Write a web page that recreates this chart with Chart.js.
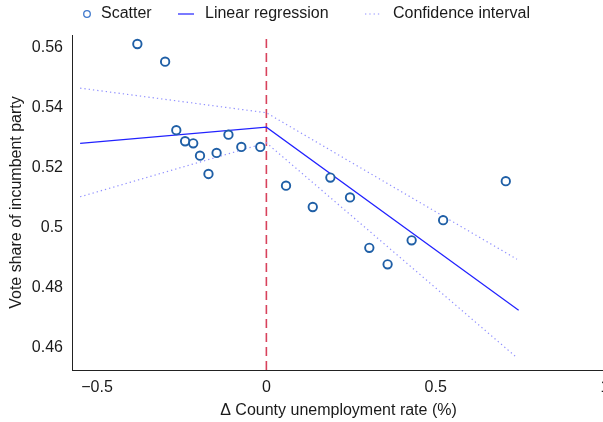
<!DOCTYPE html>
<html>
<head>
<meta charset="utf-8">
<script src="https://cdn.jsdelivr.net/npm/chart.js@4/dist/chart.umd.min.js"></script>
<style>
  html, body { margin: 0; padding: 0; background: #fff; overflow: hidden; }
  #wrap { position: relative; width: 620px; height: 422px; }
</style>
</head>
<body>
<div id="wrap"><canvas id="rdChart"></canvas></div>
<script>
// county-level scatter around the cutoff
const scatterX = [-0.381, -0.299, -0.266, -0.240, -0.216, -0.196, -0.171, -0.147, -0.112, -0.074,
  -0.018, 0.058, 0.137, 0.189, 0.247, 0.304, 0.358, 0.429, 0.522, 0.707]
const scatterY = [0.5613, 0.5554, 0.5326, 0.5289, 0.5282, 0.5241, 0.5180, 0.5250, 0.5311, 0.5270,
  0.5270, 0.5141, 0.5070, 0.5168, 0.5102, 0.4934, 0.4879, 0.4959, 0.5026, 0.5156]

// piecewise fit and its band
const fitX = [-0.55, 0, 0.745]
const fitY = [0.5282, 0.5336, 0.4726]
const ciX = [-0.55, 0, 0.74]
const ciUpperY = [0.5466, 0.5384, 0.4896]
const ciLowerY = [0.5104, 0.5284, 0.4568]

const cutoffX = [0, 0]

const xMin = -0.574, xMax = 1.0
const yMin = 0.4527, yMax = 0.5643
const xTicks = [-0.5, 0, 0.5, 1]
const yTicks = [0.46, 0.48, 0.5, 0.52, 0.54, 0.56]

const FONT = "'Liberation Sans', Arial, Helvetica, sans-serif"
const TXT = "#1a1a1a"

const pts = (xs, ys) => xs.map((x, i) => ({ x: x, y: ys[i] }))

// legend drawn by hand so the spacing can follow the original figure
const legendPlugin = {
	id: "handLegend",
	afterDraw(chart) {
		const ctx = chart.ctx
		const y = 14
		const items = [
			{ kind: "circle", ds: chart.data.datasets[0], icon: 87, text: 101 },
			{ kind: "line", ds: chart.data.datasets[1], icon: [178, 194], text: 205 },
			{ kind: "line", ds: chart.data.datasets[2], icon: [365, 381], text: 393 },
		]
		ctx.save()
		ctx.font = "16px " + FONT
		ctx.textBaseline = "middle"
		ctx.fillStyle = TXT
		items.forEach((it) => {
			ctx.save()
			if (it.kind === "circle") {
				ctx.strokeStyle = "#3f78cc"
				ctx.lineWidth = 1.3
				ctx.beginPath()
				ctx.arc(it.icon, y, 3.3, 0, Math.PI * 2)
				ctx.stroke()
			} else {
				ctx.strokeStyle = it.ds.borderColor
				ctx.lineWidth = it.ds.borderWidth
				ctx.setLineDash(it.ds.borderDash || [])
				ctx.beginPath()
				ctx.moveTo(it.icon[0], y)
				ctx.lineTo(it.icon[1], y)
				ctx.stroke()
			}
			ctx.restore()
			ctx.fillText(it.ds.label, it.text, y)
		})
		ctx.restore()
	},
}

const ctx = document.getElementById("rdChart").getContext("2d")

new Chart(ctx, {
	type: "scatter",
	data: {
		datasets: [
			{
				label: "Scatter",
				data: pts(scatterX, scatterY),
				pointRadius: 4.2,
				pointBorderWidth: 1.9,
				pointBorderColor: "#1f5fa6",
				pointBackgroundColor: "#ffffff",
				order: 0,
			},
			{
				label: "Linear regression",
				data: pts(fitX, fitY),
				showLine: true,
				pointRadius: 0,
				borderColor: "#2222ff",
				borderWidth: 1.2,
				order: 2,
			},
			{
				label: "Confidence interval",
				data: pts(ciX, ciUpperY),
				showLine: true,
				pointRadius: 0,
				borderColor: "#9090ff",
				borderWidth: 1.2,
				borderDash: [1.3, 3],
				order: 3,
			},
			{
				label: "ci-lower",
				data: pts(ciX, ciLowerY),
				showLine: true,
				pointRadius: 0,
				borderColor: "#9090ff",
				borderWidth: 1.2,
				borderDash: [1.3, 3],
				order: 3,
			},
			{
				label: "cutoff",
				data: pts(cutoffX, [yMin, yMax]),
				showLine: true,
				pointRadius: 0,
				borderColor: "#d8425c",
				borderWidth: 1.6,
				borderDash: [9, 5],
				order: 4,
			},
		],
	},
	options: {
		responsive: true,
		maintainAspectRatio: false,
		animation: false,
		layout: { padding: { top: 35, right: 15, left: 0, bottom: 0 } },
		plugins: {
			legend: { display: false },
			tooltip: { enabled: false },
		},
		scales: {
			x: {
				type: "linear",
				min: xMin,
				max: xMax,
				grid: { display: false, drawTicks: false },
				border: { display: true, color: "#222", width: 1 },
				afterFit: (s) => { s.height = 52 },
				afterBuildTicks: (s) => { s.ticks = xTicks.map((v) => ({ value: v })) },
				ticks: {
					padding: 8,
					color: TXT,
					font: { family: FONT, size: 16 },
					maxRotation: 0,
					callback: (v) => (v < 0 ? "\u2212" + Math.abs(v) : String(v)),
				},
				title: {
					display: true,
					text: "\u0394 County unemployment rate (%)",
					color: TXT,
					font: { family: FONT, size: 16 },
					padding: { top: 0, bottom: 2 },
				},
			},
			y: {
				type: "linear",
				min: yMin,
				max: yMax,
				grid: { display: false, drawTicks: false },
				border: { display: true, color: "#222", width: 1 },
				afterFit: (s) => { s.width = 72 },
				afterBuildTicks: (s) => { s.ticks = yTicks.map((v) => ({ value: v })) },
				ticks: {
					padding: 9,
					color: TXT,
					font: { family: FONT, size: 16 },
					callback: (v) => String(parseFloat(v.toFixed(2))),
				},
				title: {
					display: true,
					text: "Vote share of incumbent party",
					color: TXT,
					font: { family: FONT, size: 16 },
					padding: { top: 7, bottom: 0 },
				},
			},
		},
	},
	plugins: [legendPlugin],
})
</script>
</body>
</html>
